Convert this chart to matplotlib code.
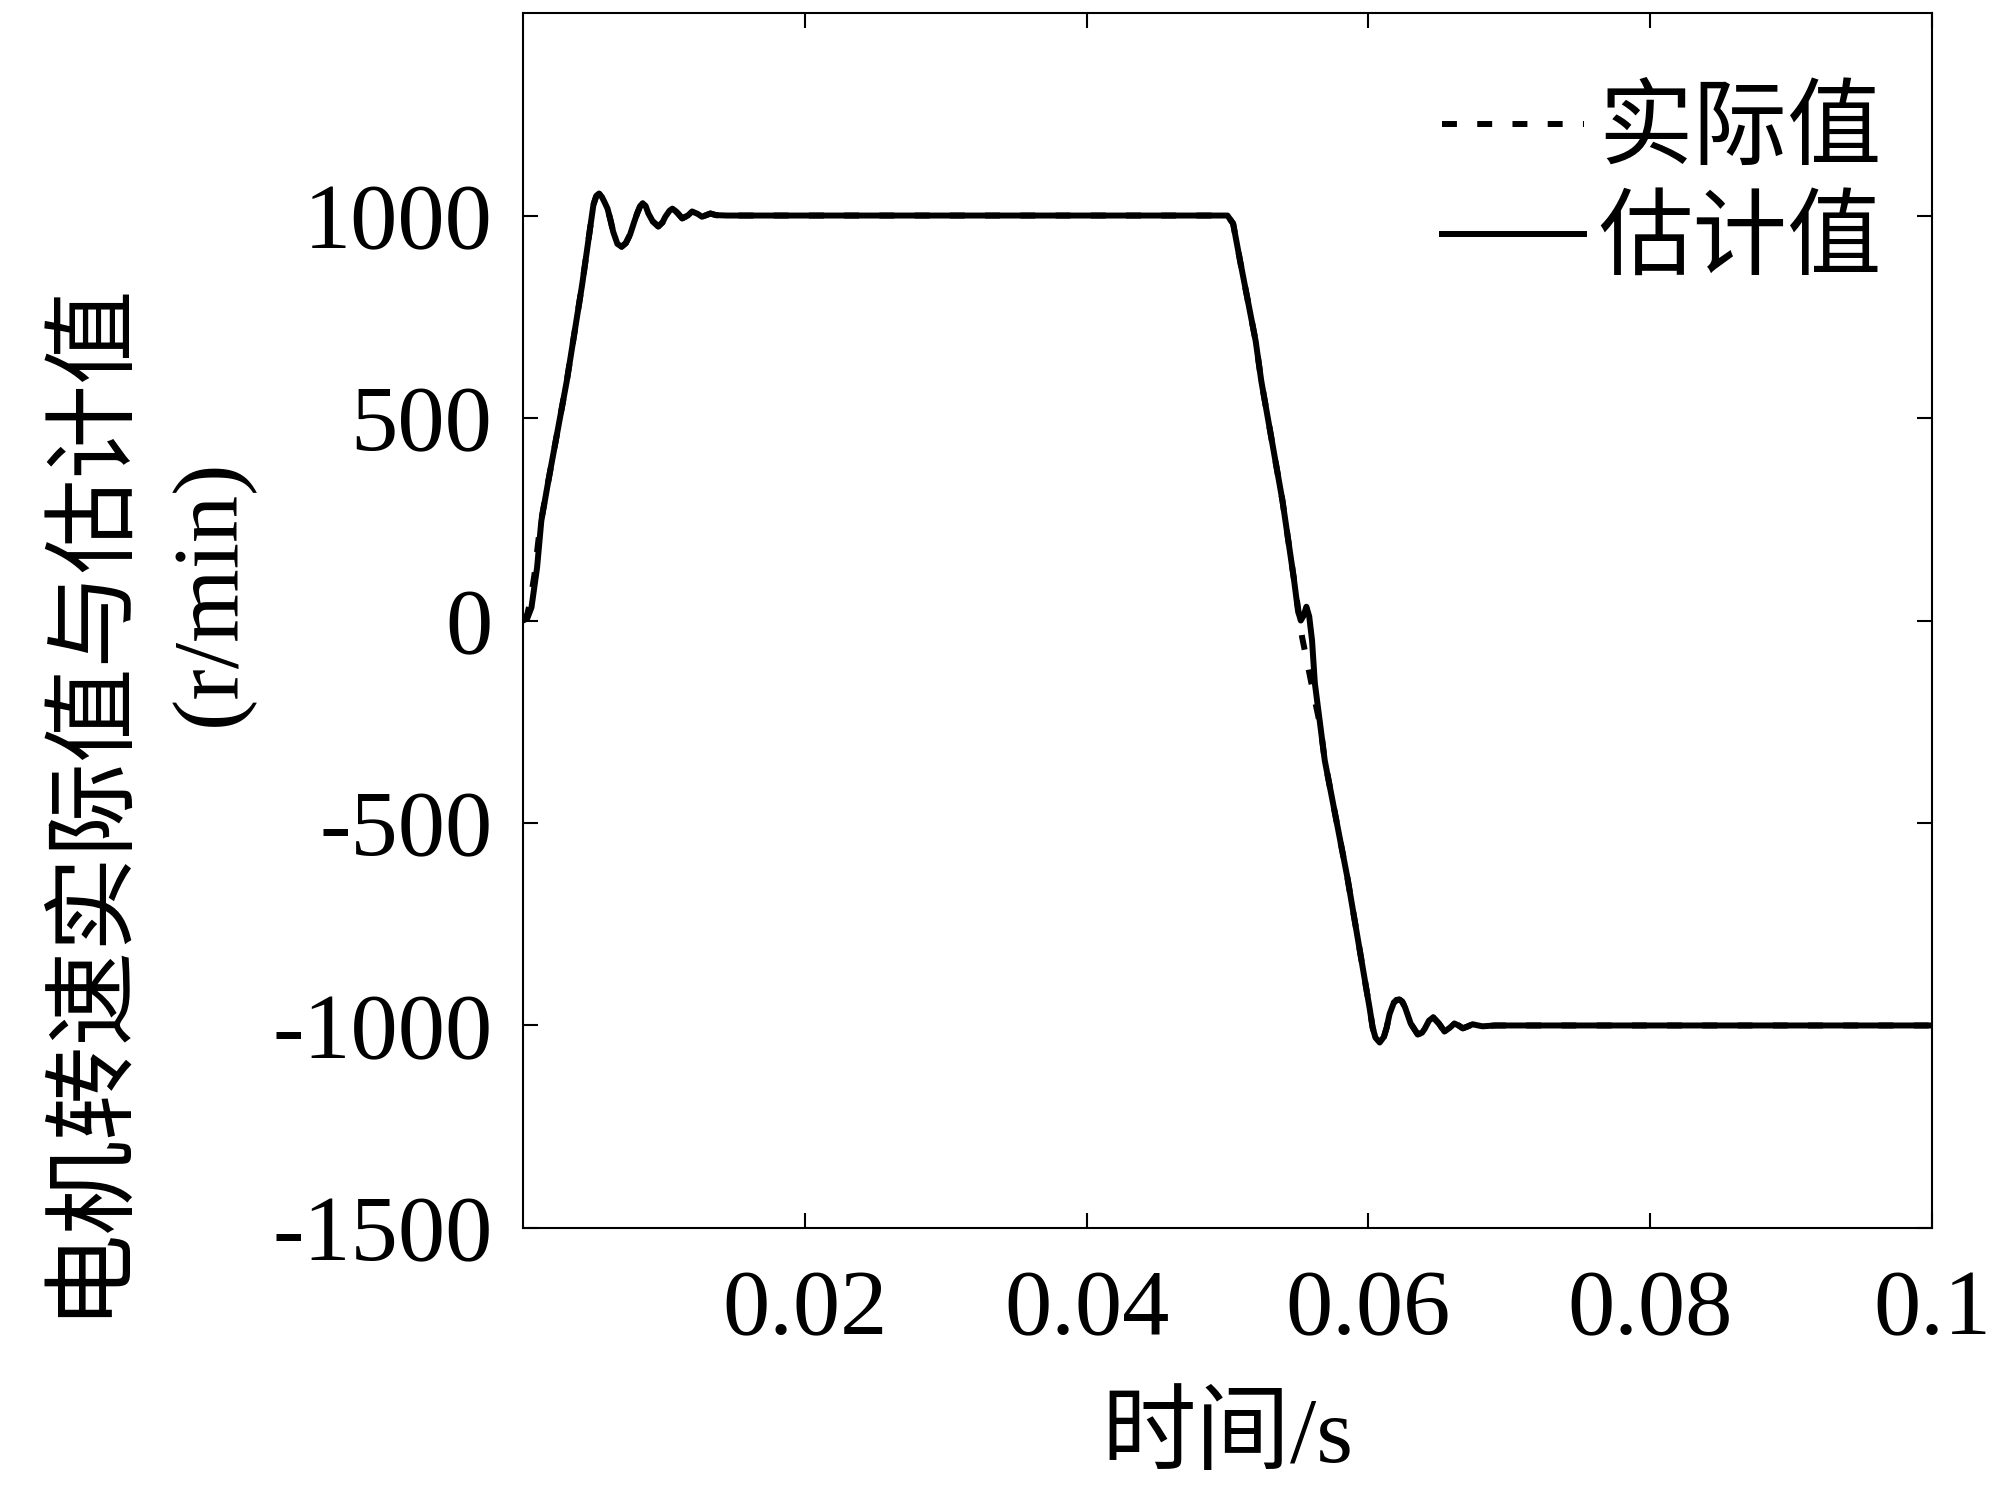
import numpy as np
import matplotlib.pyplot as plt

plt.rcParams['font.family'] = ['Liberation Serif', 'Noto Sans CJK SC']
plt.rcParams['axes.unicode_minus'] = False

# estimated speed (r/min)
t_est = [0.0, 0.0003, 0.0006, 0.0010, 0.0013, 0.0018, 0.0031, 0.0042, 0.0048,
         0.0050, 0.0052, 0.0054, 0.0056, 0.0058, 0.0060, 0.0062, 0.0064, 0.0067,
         0.0070, 0.0073, 0.0076, 0.0079, 0.0081, 0.0083, 0.0085, 0.0087, 0.0089,
         0.0092, 0.0096, 0.0099, 0.0101, 0.0104, 0.0106, 0.0108, 0.0110, 0.0113,
         0.0117, 0.0120, 0.0124, 0.0127, 0.0130, 0.0133, 0.0137, 0.0145,
         0.0500, 0.0504, 0.0509, 0.0520, 0.0524,
         0.0539, 0.0547, 0.0550, 0.0552, 0.0554, 0.0556, 0.0558, 0.0560, 0.0562,
         0.0566, 0.0569, 0.0575, 0.0585, 0.0601, 0.0603, 0.0605, 0.0608, 0.0611,
         0.0613, 0.0615, 0.0618, 0.0620, 0.0622, 0.0624, 0.0626, 0.0630, 0.0635,
         0.0638, 0.0640, 0.0643, 0.0646, 0.0650, 0.0654,
         0.0658, 0.0661, 0.0664, 0.0667, 0.0670, 0.0674, 0.0678, 0.0681, 0.0690,
         0.1000]
v_est = [0, 5, 32, 131, 246, 345, 590, 830, 978,
         1027, 1048, 1054, 1046, 1032, 1017, 990, 960, 930,
         923, 932, 953, 985, 1005, 1022, 1030, 1024, 1005,
         986, 973, 983, 997, 1012, 1017, 1012, 1005, 993,
         1000, 1010, 1004, 997, 1001, 1005, 1001, 1000,
         1000, 980, 887, 690, 591,
         296, 106, 25, 0, 12, 34, 10, -49, -155,
         -263, -345, -453, -633, -960, -1005, -1030, -1042, -1028,
         -1005, -972, -944, -937, -936, -941, -955, -995, -1022,
         -1018, -1008, -988, -980, -995, -1015,
         -1005, -995, -1000, -1007, -1003, -997, -1000, -1002, -1000,
         -1000]

# actual speed (r/min)
t_act = [0.0, 0.0003, 0.0005, 0.0008, 0.0012, 0.0018, 0.0031, 0.0042, 0.0048,
         0.0050, 0.0052, 0.0054, 0.0056, 0.0058, 0.0060, 0.0062, 0.0064, 0.0067,
         0.0070, 0.0073, 0.0076, 0.0079, 0.0081, 0.0083, 0.0085, 0.0087, 0.0089,
         0.0092, 0.0096, 0.0099, 0.0101, 0.0104, 0.0106, 0.0108, 0.0110, 0.0113,
         0.0117, 0.0120, 0.0124, 0.0127, 0.0130, 0.0133, 0.0137, 0.0145,
         0.0500, 0.0504, 0.0509, 0.0520, 0.0524,
         0.0539, 0.0547, 0.0553, 0.0561, 0.0566, 0.0569, 0.0575, 0.0585, 0.0601,
         0.0603, 0.0605, 0.0608, 0.0611, 0.0613, 0.0615, 0.0618, 0.0620, 0.0622,
         0.0624, 0.0626, 0.0630, 0.0635, 0.0638, 0.0640, 0.0643, 0.0646, 0.0650,
         0.0654, 0.0658, 0.0661, 0.0664, 0.0667, 0.0670,
         0.0674, 0.0678, 0.0681, 0.0690, 0.1000]
v_act = [0, 15, 45, 110, 230, 345, 590, 830, 978,
         1027, 1048, 1054, 1046, 1032, 1017, 990, 960, 930,
         923, 932, 953, 985, 1005, 1022, 1030, 1024, 1005,
         986, 973, 983, 997, 1012, 1017, 1012, 1005, 993,
         1000, 1010, 1004, 997, 1001, 1005, 1001, 1000,
         1000, 980, 887, 690, 591,
         296, 106, -42, -180, -263, -345, -453, -633, -960,
         -1005, -1030, -1042, -1028, -1005, -972, -944, -937, -936,
         -941, -955, -995, -1022, -1018, -1008, -988, -980, -995,
         -1015, -1005, -995, -1000, -1007, -1003,
         -997, -1000, -1002, -1000, -1000]

xticks = [0.02, 0.04, 0.06, 0.08, 0.1]
xtick_labels = ['0.02', '0.04', '0.06', '0.08', '0.1']
yticks = [-1500, -1000, -500, 0, 500, 1000]

fig = plt.figure(figsize=(20, 15.01), dpi=100)
ax = fig.add_axes([0.2615, 0.1819, 0.7045, 0.8094])

ax.plot(t_act, v_act, 'k', lw=4.3, dashes=(2.5, 3.4), label='实际值')
ax.plot(t_est, v_est, 'k', lw=4.3, label='估计值')

ax.set_xlim(0, 0.1)
ax.set_ylim(-1500, 1500)
ax.set_xticks(xticks)
ax.set_xticklabels(xtick_labels)
ax.set_yticks(yticks)
ax.set_yticklabels([str(v) for v in yticks])
ax.tick_params(direction='in', length=11, width=1.5, labelsize=68,
               top=True, right=True)
ax.tick_params(axis='y', pad=22)
ax.tick_params(axis='x', pad=30)
for s in ax.spines.values():
    s.set_linewidth(1.5)

ax.set_xlabel('时间/s', fontsize=68, labelpad=29)
# two-line y label, placed as in the original
fig.text(0.0445, 0.469, '电机转速实际值与估计值', rotation=90, fontsize=68,
         ha='center', va='center')
fig.text(0.1055, 0.6056, '(r/min)', rotation=90, fontsize=68,
         ha='center', va='center')

ax.legend(loc='upper right', bbox_to_anchor=(1.018, 1.0), fontsize=68,
          frameon=False, handlelength=1.5, handletextpad=0.15,
          labelspacing=0.24, borderaxespad=0.4)

fig.savefig('out.png')
